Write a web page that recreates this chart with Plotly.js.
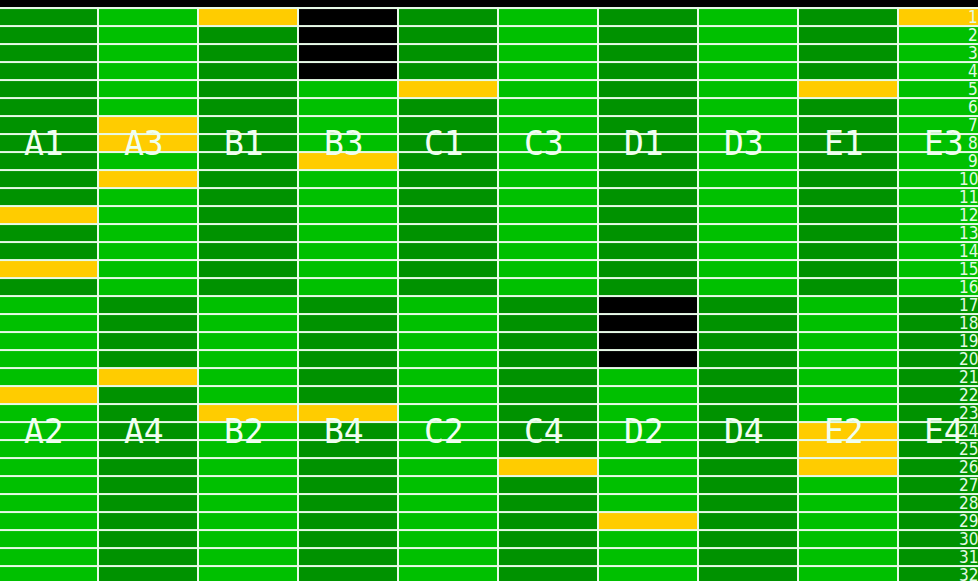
<!DOCTYPE html>
<html>
<head>
<meta charset="utf-8">
<script src="https://cdn.plot.ly/plotly-3.0.1.min.js"></script>
<style>
  html, body { margin: 0; padding: 0; background: #000; }
  #chart { width: 978px; height: 581px; }
</style>
</head>
<body>
<div id="chart"></div>
<script>
// Cell state codes: 0 = dark green, 1 = light green, 2 = yellow, 3 = black
// One array per plate column, rows 1..32 from top to bottom
const colA1A2 = [0,0,0,0,0,0,0,0,0,0,0,2,0,0,2,0, 1,1,1,1,1,2,1,1,1,1,1,1,1,1,1,1];
const colA3A4 = [1,1,1,1,1,1,2,2,1,2,1,1,1,1,1,1, 0,0,0,0,2,0,0,0,0,0,0,0,0,0,0,0];
const colB1B2 = [2,0,0,0,0,0,0,0,0,0,0,0,0,0,0,0, 1,1,1,1,1,1,2,1,1,1,1,1,1,1,1,1];
const colB3B4 = [3,3,3,3,1,1,1,1,2,1,1,1,1,1,1,1, 0,0,0,0,0,0,2,0,0,0,0,0,0,0,0,0];
const colC1C2 = [0,0,0,0,2,0,0,0,0,0,0,0,0,0,0,0, 1,1,1,1,1,1,1,1,1,1,1,1,1,1,1,1];
const colC3C4 = [1,1,1,1,1,1,1,1,1,1,1,1,1,1,1,1, 0,0,0,0,0,0,0,0,0,2,0,0,0,0,0,0];
const colD1D2 = [0,0,0,0,0,0,0,0,0,0,0,0,0,0,0,0, 3,3,3,3,1,1,1,1,1,1,1,1,2,1,1,1];
const colD3D4 = [1,1,1,1,1,1,1,1,1,1,1,1,1,1,1,1, 0,0,0,0,0,0,0,0,0,0,0,0,0,0,0,0];
const colE1E2 = [0,0,0,0,2,0,0,0,0,0,0,0,0,0,0,0, 1,1,1,1,1,1,1,2,2,2,1,1,1,1,1,1];
const colE3E4 = [2,1,1,1,1,1,1,1,1,1,1,1,1,1,1,1, 0,0,0,0,0,0,0,0,0,0,0,0,0,0,0,0];

const topLabels    = ["A1","A3","B1","B3","C1","C3","D1","D3","E1","E3"];
const bottomLabels = ["A2","A4","B2","B4","C2","C4","D2","D4","E2","E4"];
const rowNumbers   = ["1","2","3","4","5","6","7","8","9","10","11","12","13","14","15","16",
                      "17","18","19","20","21","22","23","24","25","26","27","28","29","30","31","32"];
const topLabelRow = 8;
const bottomLabelRow = 24;

const columns = [colA1A2,colA3A4,colB1B2,colB3B4,colC1C2,colC3C4,colD1D2,colD3D4,colE1E2,colE3E4];
const colIdx = columns.map((c,i)=>i);
const rowIdx = rowNumbers.map((r,i)=>i+1);
const z = rowIdx.map((r,ri)=>columns.map(c=>c[ri]));

const DARK = "#009200", LIGHT = "#00c000", YELLOW = "#ffcc00", BLACK = "#000000";

const trace = {
  type: "heatmap",
  x: colIdx,
  y: rowIdx,
  z: z,
  zmin: 0, zmax: 3,
  colorscale: [[0,DARK],[0.25,DARK],[0.25,LIGHT],[0.5,LIGHT],[0.5,YELLOW],[0.75,YELLOW],[0.75,BLACK],[1,BLACK]],
  showscale: false,
  xgap: 2, ygap: 2,
  hoverinfo: "skip"
};

const annotations = [];
const labelFont = {family: "DejaVu Sans Mono, monospace", size: 33, color: "#f0fff0"};
topLabels.forEach((t,i)=>annotations.push({x: colIdx[i], y: topLabelRow, text: t, showarrow: false, xref: "x", yref: "y", xshift: -4, font: labelFont}));
bottomLabels.forEach((t,i)=>annotations.push({x: colIdx[i], y: bottomLabelRow, text: t, showarrow: false, xref: "x", yref: "y", xshift: -4, font: labelFont}));
const numFont = {family: "DejaVu Sans Condensed, Liberation Sans Narrow, DejaVu Sans, sans-serif", size: 17, color: "#e4fae4"};
rowNumbers.forEach((t,i)=>annotations.push({x: 1, xref: "paper", xanchor: "right", y: rowIdx[i], yref: "y", text: t, showarrow: false, xshift: 1, borderpad: 0, font: numFont}));

const layout = {
  width: 978, height: 581,
  margin: {l: 0, r: 0, t: 7, b: 0, pad: 0},
  paper_bgcolor: "#000000",
  plot_bgcolor: "#e8fae8",
  showlegend: false,
  xaxis: {range: [-0.48, 9.3], visible: false, fixedrange: true},
  yaxis: {range: [32.33, 0.444], visible: false, fixedrange: true},
  annotations: annotations
};

Plotly.newPlot("chart", [trace], layout, {displayModeBar: false, staticPlot: true});
</script>
</body>
</html>
